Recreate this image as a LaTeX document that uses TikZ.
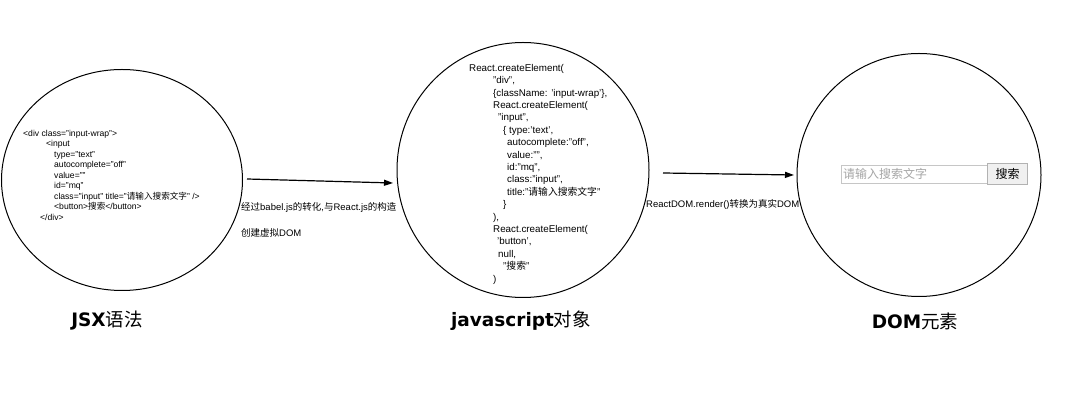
\documentclass[tikz,border=0pt]{standalone}
\usepackage{fontspec}
\setmainfont{Liberation Sans}
\newfontfamily\cjk{Noto Sans CJK SC}
\newfontfamily\titlefont{DejaVu Sans}
\usetikzlibrary{shapes.geometric,arrows.meta}

\tikzset{
  bubble/.style={ellipse, draw, line width=1pt, inner sep=0pt},
  code/.style={anchor=north west, inner sep=0pt, align=left},
  flow/.style={-{Triangle[length=9pt,width=6pt]}, line width=1.2pt},
  note/.style={anchor=west, inner sep=0pt, font=\fontsize{9.5}{11}\selectfont},
  heading/.style={inner sep=0pt, font=\fontsize{18.5}{20}\selectfont},
}

\begin{document}
\begin{tikzpicture}[x=1pt, y=-1pt]
        \useasboundingbox[fill=white] (0,0) rectangle (1080,411);
        % Bubbles
        \node[bubble, minimum width=241pt, minimum height=221pt] (jsx) at (122,180) {};
        \node[bubble, minimum width=252pt, minimum height=255pt] (jsobj) at (523,170) {};
        \node[bubble, minimum width=244pt, minimum height=243pt] (dom) at (919,175) {};
        % JSX code
        \node[code, font=\fontsize{8.6}{10.5}\selectfont] (jsxcode) at (23,130) {%
          <div class="input-wrap">\\
          \hspace*{23pt}<input\\
          \hspace*{31pt}type="text"\\
          \hspace*{31pt}autocomplete="off"\\
          \hspace*{31pt}value=""\\
          \hspace*{31pt}id="mq"\\
          \hspace*{31pt}class="input" title="{\cjk 请输入搜索文字}" />\\
          \hspace*{31pt}<button>{\cjk 搜索}</button>\\
          \hspace*{17pt}</div>};
        % javascript code
        \node[code, font=\fontsize{9.8}{12.4}\selectfont] (jscode) at (469,64) {%
          React.createElement(\\
          \hspace*{24pt}"div",\\
          \hspace*{24pt}\{className: 'input-wrap'\},\\
          \hspace*{24pt}React.createElement(\\
          \hspace*{29pt}"input",\\
          \hspace*{34pt}\{ type:'text',\\
          \hspace*{38pt}autocomplete:"off",\\
          \hspace*{38pt}value:"",\\
          \hspace*{38pt}id:"mq",\\
          \hspace*{38pt}class:"input",\\
          \hspace*{38pt}title:"{\cjk 请输入搜索文字}"\\
          \hspace*{34pt}\}\\
          \hspace*{24pt}),\\
          \hspace*{24pt}React.createElement(\\
          \hspace*{28pt}'button',\\
          \hspace*{29pt}null,\\
          \hspace*{34pt}"{\cjk 搜索}"\\
          \hspace*{24pt})};
        % DOM element
        \node[draw=gray!45, minimum width=146pt, minimum height=18pt, inner sep=0pt, anchor=west] (inputbox) at (841,174) {};
        \node[anchor=west, inner sep=0pt, text=gray!70, font=\cjk\fontsize{12}{12}\selectfont] (hint) at (843,174) {请输入搜索文字};
        \node[draw=gray!60, fill=gray!12, minimum width=40pt, minimum height=21pt, inner sep=0pt, anchor=west, font=\cjk\fontsize{12}{12}\selectfont] (btn) at (inputbox.east) {搜索};
        % Arrows
        \coordinate (jsxout) at (247,179);
        \coordinate (jsin) at (393,183);
        \coordinate (jsout) at (663,173);
        \coordinate (domin) at (794,175);
        \draw[flow] (jsxout) -- (jsin);
        \draw[flow] (jsout) -- (domin);
        % Labels
        \node[note] (babel) at (241,207) {{\cjk 经过}babel.js{\cjk 的转化},{\cjk 与}React.js{\cjk 的构造}};
        \node[note] (vdom) at (241,233) {{\cjk 创建虚拟}DOM};
        \node[note] (render) at (646,204) {ReactDOM.render(){\cjk 转换为真实}DOM};
        % Titles
        \node[heading] (jsxtitle) at (107,321) {{\titlefont\bfseries JSX}{\cjk 语法}};
        \node[heading] (jstitle) at (521,321) {{\titlefont\bfseries javascript}{\cjk 对象}};
        \node[heading] (domtitle) at (915,321) {{\titlefont\bfseries DOM}{\cjk 元素}};
\end{tikzpicture}
\end{document}
